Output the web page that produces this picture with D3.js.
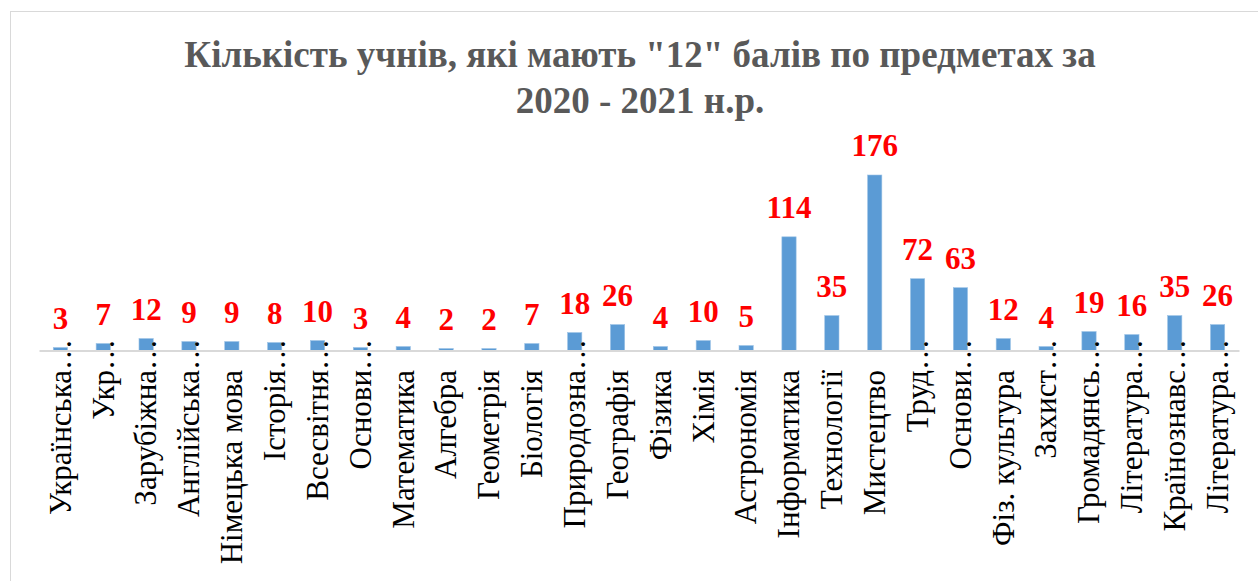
<!DOCTYPE html>
<html>
<head>
<meta charset="utf-8">
<script src="https://cdn.jsdelivr.net/npm/d3@7"></script>
<style>
  html, body { margin: 0; padding: 0; background: #fff; }
  svg { display: block; }
  #chart text { font-family: "Times New Roman", Tinos, "Liberation Serif", serif !important; }
</style>
</head>
<body>
<svg id="chart" width="1258" height="581"></svg>
<script>
const titleLines = ['Кількість учнів, які мають "12" балів по предметах за', '2020 - 2021 н.р.'];
const categories = [
  "Українська…", "Укр…", "Зарубіжна…", "Англійська…", "Німецька мова", "Історія…",
  "Всесвітня…", "Основи…", "Математика", "Алгебра", "Геометрія", "Біологія",
  "Природозна…", "Географія", "Фізика", "Хімія", "Астрономія", "Інформатика",
  "Технології", "Мистецтво", "Труд…", "Основи…", "Фіз. культура", "Захист…",
  "Громадянсь…", "Література…", "Країнознавс…", "Література…"
];
const values = [3, 7, 12, 9, 9, 8, 10, 3, 4, 2, 2, 7, 18, 26, 4, 10, 5, 114, 35, 176, 72, 63, 12, 4, 19, 16, 35, 26];

const svg = d3.select("#chart");

// chart area border
svg.append("rect")
  .attr("x", 10.5).attr("y", 11.5)
  .attr("width", 1300).attr("height", 700)
  .attr("fill", "#fff").attr("stroke", "#d9d9d9").attr("stroke-width", 1);

const x = d3.scaleBand().domain(d3.range(categories.length)).range([39, 1239]).paddingInner(0.667).paddingOuter(0.333);
const y = d3.scaleLinear().domain([0, 176]).range([350.5, 175]);

// bars
svg.selectAll("rect.bar").data(values).join("rect")
  .attr("class", "bar")
  .attr("x", (d, i) => x(i))
  .attr("y", d => y(d))
  .attr("width", x.bandwidth())
  .attr("height", d => y(0) - y(d))
  .attr("fill", "#5b9bd5")
  .attr("stroke", "#9dc3e6").attr("stroke-width", 0.6);

// axis line
const axis = d3.axisBottom(x).tickSize(0).tickFormat("");
const ag = svg.append("g").attr("transform", "translate(0,350.5)").call(axis);
ag.select(".domain").attr("stroke", "#d9d9d9").attr("stroke-width", 2);

// title
svg.selectAll("text.title").data(titleLines).join("text")
  .attr("class", "title")
  .attr("x", 640).attr("y", (d, i) => 67 + i * 46)
  .attr("text-anchor", "middle")
  .attr("font-weight", "bold")
  .attr("font-size", 37)
  .attr("fill", "#595959")
  .text(d => d);

// data labels
svg.selectAll("text.val").data(values).join("text")
  .attr("class", "val")
  .attr("x", (d, i) => x(i) + x.bandwidth() / 2)
  .attr("y", d => y(d) - 19)
  .attr("text-anchor", "middle")
  .attr("font-weight", "bold")
  .attr("font-size", 31)
  .attr("fill", "#ff0000")
  .text(d => d);

// category labels (rotated)
svg.selectAll("text.cat").data(categories).join("text")
  .attr("class", "cat")
  .attr("transform", (d, i) => `translate(${x(i) + x.bandwidth() / 2},370) rotate(-90)`)
  .attr("text-anchor", "end")
  .attr("dy", "0.33em")
  .attr("font-size", 31)
  .attr("fill", "#000")
  .text(d => d.replace("…", ""));
svg.selectAll("text.ell").data(categories.map((d, i) => ({ d, i })).filter(o => o.d.endsWith("…"))).join("text")
  .attr("class", "ell")
  .attr("transform", o => `translate(${x(o.i) + x.bandwidth() / 2},370) rotate(-90)`)
  .attr("text-anchor", "start")
  .attr("dy", "0.33em")
  .attr("font-size", 31)
  .attr("fill", "#000")
  .text("…");
</script>
</body>
</html>
